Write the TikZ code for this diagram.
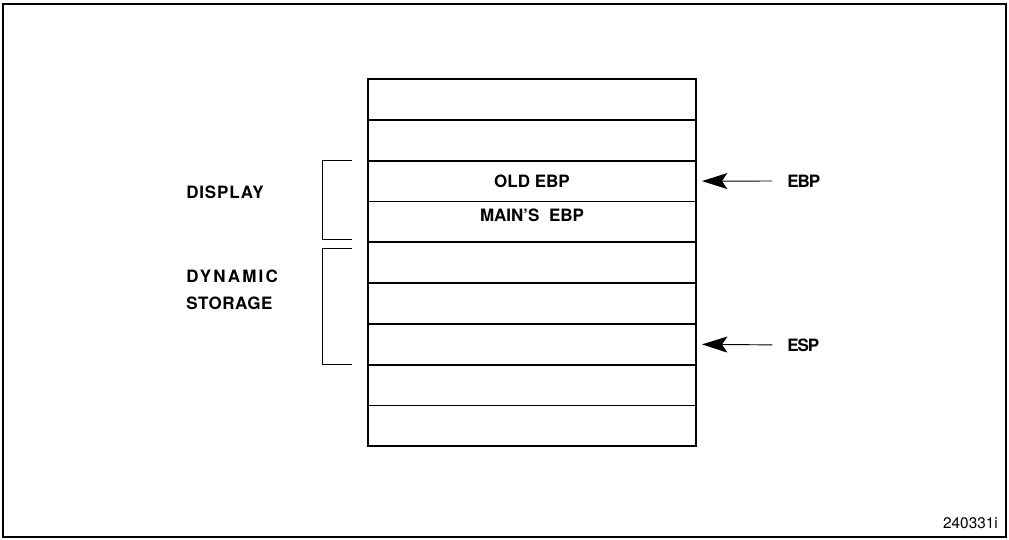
\documentclass[tikz,border=0pt]{standalone}
\usepackage{fontspec}
\setmainfont{TeX Gyre Heros}
\usetikzlibrary{positioning, arrows.meta}

\begin{document}
\begin{tikzpicture}[
    x=0.75pt, y=-0.75pt,
    frame/.style={draw, line width=1.5pt},
    cell/.style={rectangle, draw, line width=1.4pt, minimum width=246pt, minimum height=30.6pt, outer sep=0pt, inner sep=0pt},
    lbl/.style={font=\fontsize{12.75}{15}\selectfont\bfseries, inner sep=0pt},
    side/.style={lbl, anchor=west, align=left, font=\fontsize{12.75}{20.25}\selectfont\bfseries},
    brace/.style={draw, line width=0.7pt},
    ptr/.style={-{Stealth[length=19pt, width=12pt, inset=4pt]}, line width=0.7pt, shorten <=11pt, shorten >=4.5pt},
    tag/.style={font=\fontsize{11.5}{13}\selectfont, anchor=south east, inner sep=0pt}
]

\useasboundingbox (0,0) rectangle (1009,539);

% Outer frame
\draw[frame] (3,4) rectangle (1006,537);

% Stack of cells
\node[cell] (cell1) at (532,99.5) {};
\foreach \i [count=\j from 2] in {1,...,8}
    \node[cell, below=0pt of cell\i] (cell\j) {};

% Cell contents
\node[lbl] (oldebp) at (cell3) {OLD EBP};
\node[lbl, yshift=4.9pt] (mainebp) at (cell4) {MAIN'S\ \ EBP};

% Left-side labels and brackets
\node[side] (display) at (186,192) {\addfontfeature{LetterSpace=5}DISPLAY};
\node[side] (dynamic) at (186,289.5) {{\addfontfeature{LetterSpace=13}DYNAMIC}\\{\addfontfeature{LetterSpace=3}STORAGE}};
\draw[brace] (352,160) -- (322,160) -- (322,239) -- (352,239);
\draw[brace] (352,248) -- (322,248) -- (322,364) -- (352,364);

% Register pointers
\node[lbl, anchor=west] (ebp) at (787,181) {\addfontfeature{LetterSpace=-6}EBP};
\node[lbl, anchor=west] (esp) at (787,345) {\addfontfeature{LetterSpace=-6}ESP};
\draw[ptr] (ebp.west) -- (cell3.east);
\draw[ptr] (esp.west) -- (cell7.east);

% Figure number
\node[tag] (figno) at (998,529) {240331i};

\end{tikzpicture}
\end{document}
